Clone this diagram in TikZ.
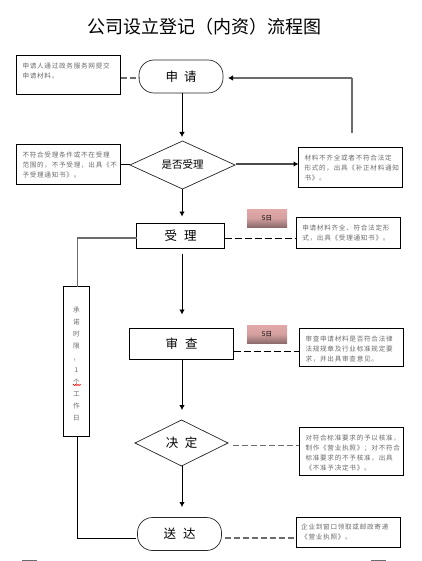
\documentclass[tikz,border=0pt]{standalone}
\usepackage{fontspec}
\setmainfont{Noto Sans CJK SC}
\newfontfamily\boxfont[LetterSpace=11]{Noto Sans CJK SC}
\usetikzlibrary{arrows.meta,shapes.geometric,calc,decorations.pathmorphing}
\newcommand{\boxtxt}[4]{\parbox[c][#2pt][t]{#1pt}{\vspace*{#3pt}\raggedright\fontsize{6.6pt}{10pt}\boxfont\color{txtgray}#4}}
\definecolor{txtgray}{gray}{0.42}
\definecolor{linegray}{gray}{0.42}
\definecolor{tagtop}{HTML}{E2A9A9}
\definecolor{tagbot}{HTML}{8C6C6C}
\tikzset{
  every node/.style={outer sep=0pt,inner sep=0pt},
  infobox/.style={draw=black,line width=0.8pt,fill=white,align=left},
  stepbox/.style={draw=black,line width=0.8pt,fill=white,font=\fontsize{12.5pt}{14pt}\selectfont},
  endbox/.style={draw=black!85,line width=0.7pt,fill=white,rounded corners=15pt,font=\fontsize{12.5pt}{14pt}\selectfont},
  choice/.style={draw=black!85,diamond,aspect=2.1,line width=0.7pt,fill=white,font=\fontsize{12.5pt}{14pt}\selectfont},
  tag/.style={top color=tagtop,bottom color=tagbot,middle color=tagtop!85!tagbot,minimum width=40pt,minimum height=18pt,font=\fontsize{6.5pt}{7pt}\selectfont},
  flow/.style={draw=black,line width=0.8pt,-{Latex[length=5pt,width=5.5pt]}},
  flowg/.style={draw=linegray,line width=1.3pt,-{Latex[length=5pt,width=5.5pt,black]}},
  dashb/.style={draw=black,line width=0.8pt,dash pattern=on 7pt off 3pt},
  dashg/.style={draw=linegray,line width=1.3pt,dash pattern=on 6pt off 3pt},
  link/.style={draw=black,line width=0.8pt},
  linkg/.style={draw=linegray,line width=1.4pt},
}
\begin{document}
\begin{tikzpicture}[x=1pt,y=-1pt]
\useasboundingbox (0,0) rectangle (422,561);
\node (title) at (204,27) {\fontsize{18pt}{20pt}\selectfont 公司设立登记（内资）流程图};

\node[endbox,minimum width=84pt,minimum height=33pt] (apply) at (181,76.5) {\raisebox{-1.5pt}{申\hspace{6pt}请}};
\node[choice,minimum width=105pt,minimum height=48pt] (accept) at (182.5,165) {\raisebox{1pt}{\fontsize{10.5pt}{12pt}\selectfont 是否受理}};
\node[stepbox,minimum width=88pt,minimum height=25pt] (handle) at (180.5,236) {受\hspace{7pt}理};
\node[stepbox,minimum width=104pt,minimum height=31pt] (review) at (181.5,344) {审\hspace{7pt}查};
\node[choice,minimum width=93pt,minimum height=46pt] (decide) at (181.5,443) {\raisebox{1.5pt}{决\hspace{6.5pt}定}};
\node[endbox,minimum width=84pt,minimum height=33pt] (deliver) at (179.5,534) {\raisebox{-1.5pt}{送\hspace{7pt}达}};

\node[infobox,minimum width=104pt,minimum height=39pt] (i1) at (68.5,75)
  {\boxtxt{92}{37.5}{6.5}{申请人通过政务服务网提交\\申请材料。}};
\node[infobox,minimum width=104pt,minimum height=40pt] (i2) at (68.5,164.5)
  {\boxtxt{92}{38}{6.5}{不符合受理条件或不在受理\\范围的，不予受理，出具《不\\予受理通知书》。}};
\node[infobox,minimum width=104pt,minimum height=40.5pt] (i3) at (350.5,167.5)
  {\boxtxt{92}{38}{6}{材料不齐全或者不符合法定\\形式的，出具《补正材料通知\\书》。}};
\node[infobox,minimum width=104pt,minimum height=31pt] (i4) at (348.3,232.8)
  {\boxtxt{92}{29}{6.5}{申请材料齐全、符合法定形\\式，出具《受理通知书》。}};
\node[infobox,minimum width=104.4pt,minimum height=38pt] (i5) at (351.5,347.3)
  {\boxtxt{92}{36}{7}{审查申请材料是否符合法律\\法规规章及行业标准规定要\\求，并出具审查意见。}};
\node[infobox,minimum width=104.4pt,minimum height=47.6pt] (i6) at (351.5,451.5)
  {\boxtxt{92}{45}{5.5}{对符合标准要求的予以核准，\\制作《营业执照》；对不符合\\标准要求的不予核准，出具\\ 《不准予决定书》。}};
\node[infobox,minimum width=103.7pt,minimum height=30pt] (i7) at (348.2,532.3)
  {\boxtxt{94}{28}{6}{企业到窗口领取或邮政寄递\\《营业执照》。}};

\node[infobox,minimum width=26pt,minimum height=150pt] (limit) at (76.5,361.5)
  {\parbox[c][148pt][t]{24pt}{\centering\vspace*{20pt}\fontsize{6.6pt}{12pt}\selectfont\color{txtgray}承\\诺\\时\\限\\，\\1\\个\\工\\作\\日}};
\coordinate (wa) at (73,385);
\coordinate (wb) at (81,385);
\draw[red,line width=0.5pt,decorate,decoration={zigzag,segment length=2.2pt,amplitude=0.8pt}] (wa) -- (wb);

\node[tag] (tag1) at (267,218) {5日};
\node[tag] (tag2) at (267,334) {5日};

\coordinate (axis) at (182,0);
\coordinate (back) at (352,133);
\coordinate (backc) at (352,78);
\coordinate (bl) at (77.5,238);
\coordinate (br) at (77.5,538);
\coordinate (p1) at ([yshift=-1.5pt]apply.west);
\coordinate (p2) at ([xshift=5pt,yshift=-1.5pt]apply.east);
\coordinate (p3) at ([yshift=1pt]accept.west);
\coordinate (p4) at ([xshift=1pt,yshift=1pt]accept.east);
\coordinate (p5) at ([yshift=-2pt]handle.east);
\coordinate (p6) at ([yshift=-7pt]review.east);
\coordinate (p7) at ([xshift=5pt,yshift=-2.7pt]decide.east);
\coordinate (p8) at ([xshift=3pt,yshift=-4pt]deliver.east);
\coordinate (p9) at ([yshift=-2pt]handle.west);
\coordinate (p10) at ([xshift=-2pt,yshift=-4pt]deliver.west);

\draw[dashg] (p1 -| i1.east) -- (p1);
\draw[flow,shorten >=4pt] (apply.south -| axis) -- (accept.north -| axis);
\draw[link] (p3) -- (p3 -| i2.east);
\draw[flowg,draw=black!70] (p4) -- (p4 -| i3.west);
\draw[linkg] (back) -- (backc);
\draw[flowg] (backc) -- (p2);
\draw[flow,shorten >=7pt] (accept.south -| axis) -- (handle.north -| axis);
\draw[dashb] (p5) -- (p5 -| i4.west);
\draw[flow,shorten <=5pt,shorten >=14pt] (handle.south -| axis) -- (review.north -| axis);
\draw[dashb] (p6) -- (p6 -| i5.west);
\draw[flow,shorten >=10pt] (review.south -| axis) -- (decide.north -| axis);
\draw[dashg] (p7) -- (p7 -| i6.west);
\draw[flow,shorten >=10.5pt] (decide.south -| axis) -- (deliver.north -| axis);
\draw[dashg] (p8) -- (p8 -| i7.west);
\draw[linkg] (p9) -- (p9 -| bl) -- (bl |- limit.north);
\draw[link] (br |- limit.south) -- (br) -- (p10);
\draw[draw=linegray,line width=1pt] (22,560.5) -- (37,560.5) (371,560.5) -- (386,560.5);
\end{tikzpicture}
\end{document}
